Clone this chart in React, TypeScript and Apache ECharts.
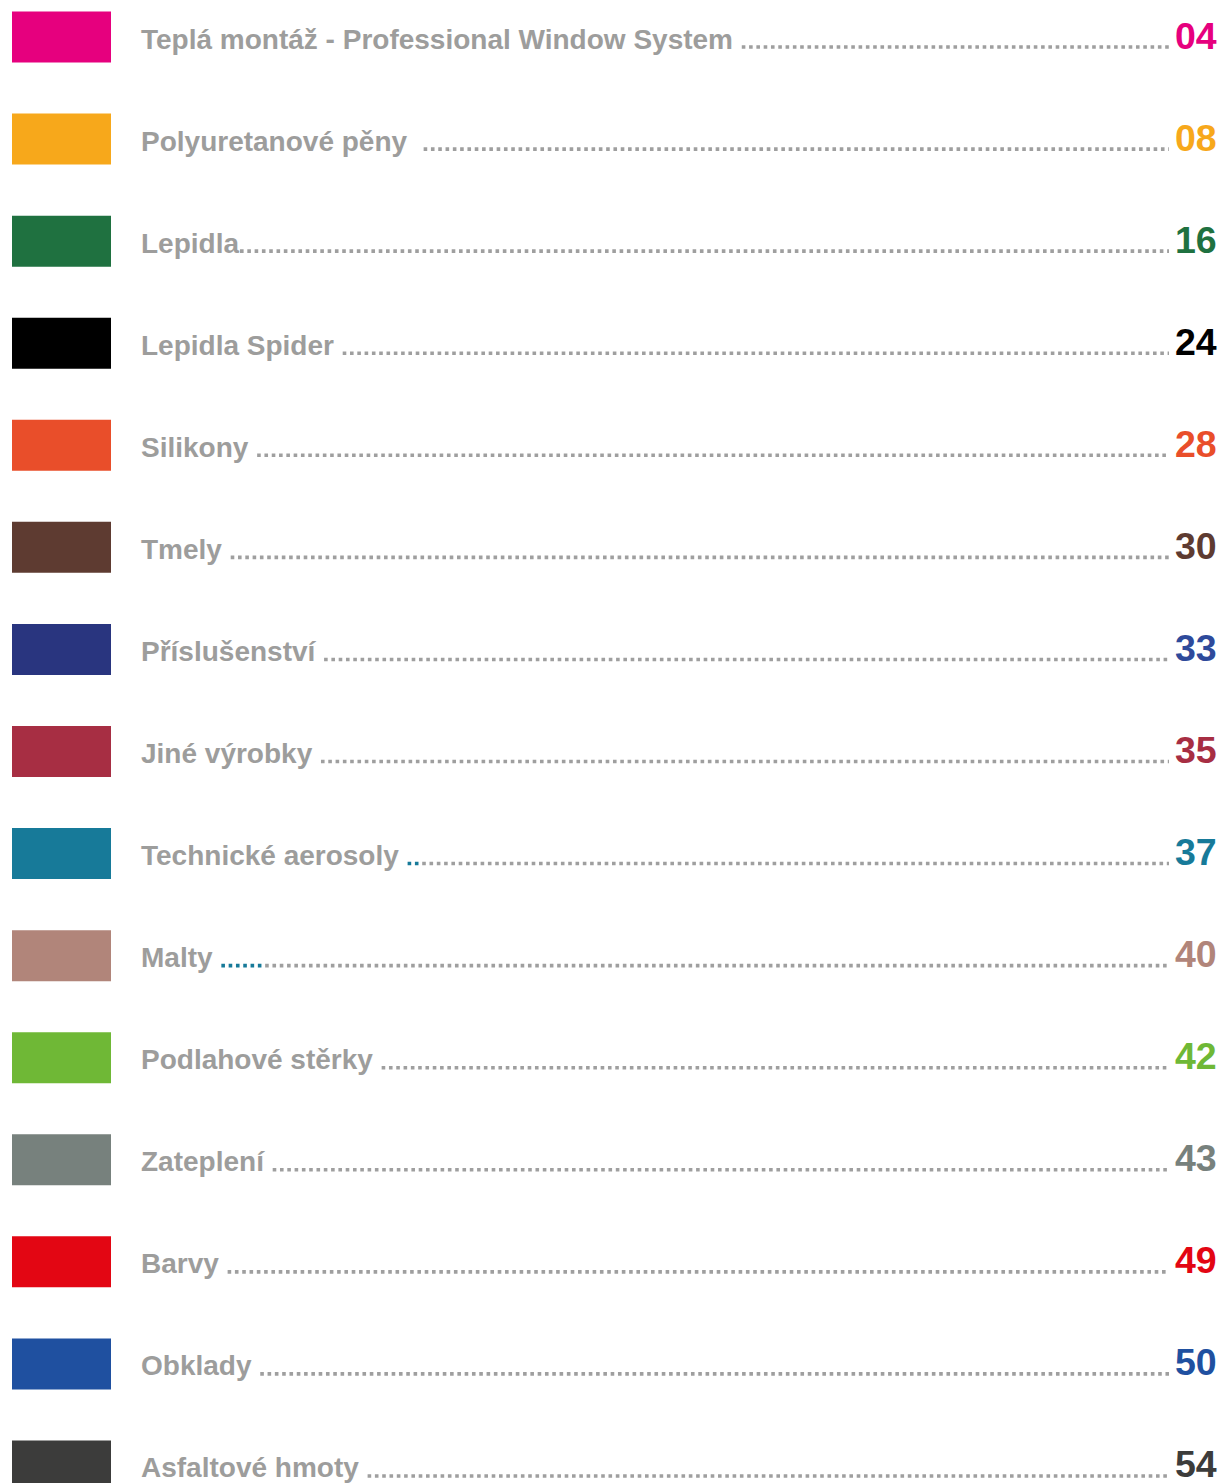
import React, { useEffect, useRef } from "react";
import * as echarts from "echarts";

const sections = [
  "Teplá montáž - Professional Window System",
  "Polyuretanové pěny",
  "Lepidla",
  "Lepidla Spider",
  "Silikony",
  "Tmely",
  "Příslušenství",
  "Jiné výrobky",
  "Technické aerosoly",
  "Malty",
  "Podlahové stěrky",
  "Zateplení",
  "Barvy",
  "Obklady",
  "Asfaltové hmoty",
];
const pages = ["04", "08", "16", "24", "28", "30", "33", "35", "37", "40", "42", "43", "49", "50", "54"];
const swatchColors = [
  "#e6007e", "#f7a81b", "#1f7140", "#000000", "#e94e2a", "#5e3b31", "#29357f", "#a72e43",
  "#177a99", "#b1857a", "#6fb836", "#77817d", "#e30613", "#1f50a0", "#3c3c3b",
];
const pageColors = [
  "#e6007e", "#f7a81b", "#1f7140", "#000000", "#e94e2a", "#5e3b31", "#2e4a9b", "#a72e43",
  "#177a99", "#b1857a", "#6fb836", "#77817d", "#e30613", "#1f50a0", "#3c3c3b",
];
// number of spaces between label and leader dots
const leaderSpaces = [1, 2, 0, 1, 1, 1, 1, 1, 1, 1, 1, 1, 1, 1, 1];
// leading dots printed in teal
const accentDots = [0, 0, 0, 0, 0, 0, 0, 0, 2, 6, 0, 0, 0, 0, 0];
const accentColor = "#177a99";

const LABEL_FONT = 'bold 28px "Liberation Sans", Arial, sans-serif';

export default function App() {
  const ref = useRef<HTMLDivElement>(null);
  useEffect(() => {
    if (!ref.current) return;
    const chart = echarts.init(ref.current, undefined, { renderer: "svg" });
    const ctx = document.createElement("canvas").getContext("2d")!;
    ctx.font = LABEL_FONT;
    const measure = (s: string) => ctx.measureText(s).width;

    const DOT = 3.6;
    const PITCH = 7.3;

    const renderItem = (params: any, api: any) => {
      const idx = api.value(1);
      const [, cy] = api.coord([0, idx]);
      const x0 = api.coord([12, idx])[0];
      const x1 = api.coord([111, idx])[0];
      const tx = api.coord([141, idx])[0];
      const nx = api.coord([1175, idx])[0];
      const dotEnd = api.coord([1169, idx])[0];
      const labelW = measure(sections[idx]) + measure(" ".repeat(leaderSpaces[idx]));
      const dotStart = tx + labelW + 1;
      const dotY = cy + 10;
      const children: any[] = [
        {
          type: "rect",
          shape: { x: x0, y: cy - 25.5, width: x1 - x0, height: 51 },
          style: { fill: swatchColors[idx] },
        },
        {
          type: "text",
          x: tx,
          y: cy + 2,
          style: {
            text: sections[idx],
            font: LABEL_FONT,
            fill: "#9d9d9c",
            textAlign: "left",
            textVerticalAlign: "middle",
          },
        },
      ];
      const accLen = accentDots[idx] * PITCH;
      if (accLen > 0) {
        children.push({
          type: "line",
          shape: { x1: dotStart, y1: dotY, x2: dotStart + accLen - (PITCH - DOT), y2: dotY },
          style: { stroke: accentColor, lineWidth: DOT, lineDash: [DOT, PITCH - DOT] },
        });
      }
      children.push({
        type: "line",
        shape: { x1: dotStart + accLen, y1: dotY, x2: dotEnd, y2: dotY },
        style: { stroke: "#9f9f9f", lineWidth: DOT, lineDash: [DOT, PITCH - DOT] },
      });
      children.push({
        type: "text",
        x: nx,
        y: cy - 1.5,
        style: {
          text: pages[idx],
          font: 'bold 37.5px "Liberation Sans", Arial, sans-serif',
          fill: pageColors[idx],
          textAlign: "left",
          textVerticalAlign: "middle",
        },
      });
      return { type: "group", children };
    };

    chart.setOption({
      animation: false,
      backgroundColor: "#ffffff",
      grid: { left: 0, right: 0, top: 0, bottom: 0, containLabel: false },
      xAxis: { type: "value", min: 0, max: 1222, show: false },
      yAxis: { type: "category", inverse: true, data: sections, show: false },
      series: [
        {
          type: "custom",
          renderItem,
          clip: false,
          data: sections.map((_, i) => [0, i]),
        },
      ],
    });
    return () => chart.dispose();
  }, []);
  return (
    <div
      ref={ref}
      style={{ position: "fixed", left: 0, top: -14, width: 1222, height: 1531, background: "#fff" }}
    />
  );
}
